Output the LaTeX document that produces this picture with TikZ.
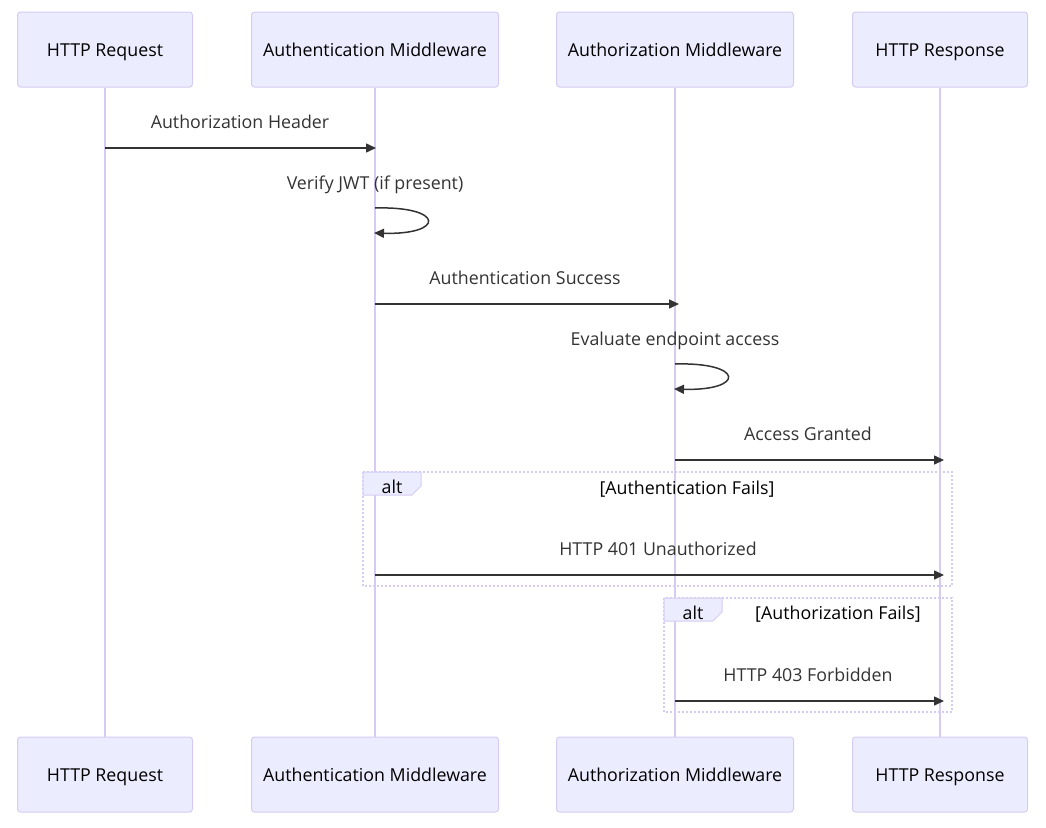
\documentclass[tikz,border=0pt]{standalone}
\usepackage{fontspec}
\setmainfont{Open Sans}
\usetikzlibrary{arrows.meta}
\definecolor{actorfill}{HTML}{ECECFF}
\definecolor{actorline}{HTML}{D6CCF3}
\definecolor{lifeline}{HTML}{D6CCF3}
\definecolor{msgcol}{HTML}{333333}
\begin{document}
\begin{tikzpicture}[x=1pt,y=-1pt,
  actor/.style={draw=actorline, fill=actorfill, rounded corners=3pt, line width=1pt,
    minimum height=75pt, inner sep=0pt, font=\fontsize{17.8}{21}\selectfont, text=black,
    text height=15pt, text depth=2pt},
  life/.style={draw=lifeline, line width=2pt},
  msg/.style={draw=msgcol, line width=1.5pt, -{Triangle[length=10pt,width=9pt]}},
  lbl/.style={font=\fontsize{17.8}{21}\selectfont, text=msgcol, inner sep=0pt,
    text height=15pt, text depth=2pt},
  altbox/.style={draw=actorline, line width=2pt, dotted},
  alttab/.style={draw=actorline, fill=actorfill, line width=1pt},
  alttxt/.style={font=\fontsize{17.8}{21}\selectfont, text=black, inner sep=0pt,
    text height=15pt, text depth=2pt}]
\useasboundingbox (0,0) rectangle (1046,827);
% actors
\node[actor, minimum width=175pt] (a1) at (105,49.5) {HTTP Request};
\node[actor, minimum width=247pt] (a2) at (375,49.5) {Authentication Middleware};
\node[actor, minimum width=237pt] (a3) at (675,49.5) {Authorization Middleware};
\node[actor, minimum width=175pt] (a4) at (940,49.5) {HTTP Response};
\node[actor, minimum width=175pt] (b1) at (105,774.5) {HTTP Request};
\node[actor, minimum width=247pt] (b2) at (375,774.5) {Authentication Middleware};
\node[actor, minimum width=237pt] (b3) at (675,774.5) {Authorization Middleware};
\node[actor, minimum width=175pt] (b4) at (940,774.5) {HTTP Response};
% lifelines
\draw[life] (a1.south) -- (b1.north);
\draw[life] (a2.south) -- (b2.north);
\draw[life] (a3.south) -- (b3.north);
\draw[life] (a4.south) -- (b4.north);
% alt boxes
\draw[altbox] (363,472) rectangle (952,586);
\draw[alttab] (363,472) -- (421,472) -- (421,486) -- (412,495) -- (363,495) -- cycle;
\node[alttxt] (alt1) at (392,487) {alt};
\node[alttxt] (cond1) at (687,488) {[Authentication Fails]};
\draw[altbox] (664,598) rectangle (952,712);
\draw[alttab] (664,598) -- (722,598) -- (722,612) -- (713,621) -- (664,621) -- cycle;
\node[alttxt] (alt2) at (693,613) {alt};
\node[alttxt] (cond2) at (838,613) {[Authorization Fails]};
% message coordinates
\coordinate (m1s) at (105,148); \coordinate (m1e) at (376,148);
\coordinate (l1s) at (375,208); \coordinate (l1e) at (374,233);
\coordinate (m3s) at (375,304); \coordinate (m3e) at (679,304);
\coordinate (l2s) at (675,364); \coordinate (l2e) at (674,389);
\coordinate (m5s) at (675,460); \coordinate (m5e) at (944,460);
\coordinate (m6s) at (375,575); \coordinate (m6e) at (944,575);
\coordinate (m7s) at (675,701); \coordinate (m7e) at (944,701);
% messages
\node[lbl] (t1) at (240,122) {Authorization Header};
\draw[msg] (m1s) -- (m1e);
\node[lbl] (t2) at (375,183) {Verify JWT (if present)};
\draw[msg] (l1s) .. controls (445,206) and (445,235) .. (l1e);
\node[lbl] (t3) at (525,278) {Authentication Success};
\draw[msg] (m3s) -- (m3e);
\node[lbl] (t4) at (675,339) {Evaluate endpoint access};
\draw[msg] (l2s) .. controls (745,362) and (745,391) .. (l2e);
\node[lbl] (t5) at (808,434) {Access Granted};
\draw[msg] (m5s) -- (m5e);
\node[lbl] (t6) at (658,549) {HTTP 401 Unauthorized};
\draw[msg] (m6s) -- (m6e);
\node[lbl] (t7) at (808,675) {HTTP 403 Forbidden};
\draw[msg] (m7s) -- (m7e);
\end{tikzpicture}
\end{document}
